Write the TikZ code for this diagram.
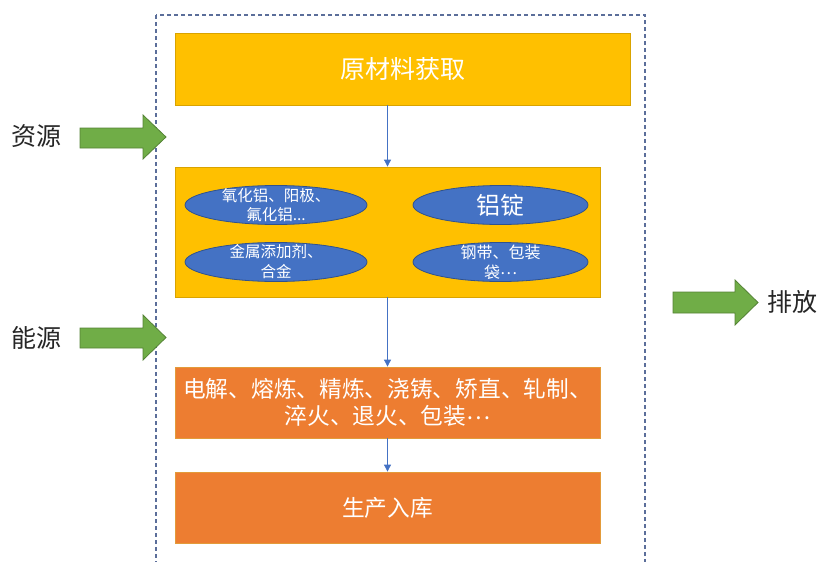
\documentclass[tikz,border=0pt]{standalone}
\usepackage{fontspec}
\setmainfont{Noto Sans CJK SC}
\usetikzlibrary{shapes.geometric,arrows.meta}
\definecolor{ygold}{HTML}{FFC000}
\definecolor{yedge}{HTML}{D9A300}
\definecolor{oran}{HTML}{ED7D31}
\definecolor{oedge}{HTML}{E39B3A}
\definecolor{eblue}{HTML}{4472C4}
\definecolor{eedge}{HTML}{2F528F}
\definecolor{gfill}{HTML}{70AD47}
\definecolor{gedge}{HTML}{548235}
\definecolor{frame}{HTML}{5B6E9A}
\definecolor{lbl}{HTML}{262626}
\newcommand{\midell}{\raisebox{0.25em}{…}}
\tikzset{
  ybox/.style={draw=yedge,fill=ygold,line width=0.8pt,inner sep=0pt},
  obox/.style={draw=oedge,fill=oran,line width=0.8pt,inner sep=0pt},
  blob/.style={ellipse,draw=eedge,fill=eblue,line width=0.8pt,inner sep=0pt},
  wtext/.style={text=white,align=center,inner sep=0pt},
  conn/.style={draw=eblue,line width=0.8pt,-{Triangle[length=7pt,width=7pt]}},
  garrow/.style={draw=gedge,fill=gfill,line width=0.8pt,line join=miter},
  side/.style={text=lbl,font=\fontsize{25}{28}\selectfont,inner sep=0pt}
}
\begin{document}
\begin{tikzpicture}[x=1pt,y=-1pt]
\useasboundingbox (0,0) rectangle (819,562);
\clip (0,0) rectangle (819,562);
% dashed frame
\draw[frame,line width=1.1pt,dash pattern=on 4pt off 3pt] (156,15) rectangle (645,580);
% boxes
\node[ybox,minimum width=455pt,minimum height=72pt] (raw) at (402.5,69) {};
\node[wtext,font=\fontsize{25}{28}\selectfont] (rawt) at (raw.center) {原材料获取};
\node[ybox,minimum width=425pt,minimum height=130pt] (mat) at (387.5,232) {};
\node[obox,minimum width=425pt,minimum height=71pt] (proc) at (387.5,402.5) {};
\node[wtext,font=\fontsize{22.7}{27.5}\selectfont] (proct) at (proc.center) {电解、熔炼、精炼、浇铸、矫直、轧制、\\淬火、退火、包装\midell};
\node[obox,minimum width=425pt,minimum height=71pt] (store) at (387.5,507.5) {};
\node[wtext,font=\fontsize{22.7}{28}\selectfont] (storet) at (store.center) {生产入库};
% ellipses
\node[blob,minimum width=182pt,minimum height=39pt] (e1) at (276,205) {};
\node[wtext,font=\fontsize{15.5}{18.5}\selectfont] (e1t) at (e1.center) {氧化铝、阳极、\\氟化铝...};
\node[blob,minimum width=175pt,minimum height=39pt] (e2) at (500.5,205) {};
\node[wtext,font=\fontsize{24}{28}\selectfont] (e2t) at (e2.center) {铝锭};
\node[blob,minimum width=182pt,minimum height=39pt] (e3) at (276,262) {};
\node[wtext,font=\fontsize{15.5}{20}\selectfont] (e3t) at (e3.center) {金属添加剂、\\合金};
\node[blob,minimum width=175pt,minimum height=39pt] (e4) at (500.5,262) {};
\node[wtext,font=\fontsize{16}{20}\selectfont] (e4t) at (e4.center) {钢带、包装\\袋\midell};
% connectors
\draw[conn] (raw.south -| mat.north) -- (mat.north);
\draw[conn] (mat.south) -- (proc.north);
\draw[conn] (proc.south) -- (store.north);
% green arrows
\draw[garrow] (80,128) -- (143,128) -- (143,115) -- (166,137) -- (143,159) -- (143,148) -- (80,148) -- cycle;
\draw[garrow] (80,328) -- (143,328) -- (143,315) -- (166,337.5) -- (143,360) -- (143,348) -- (80,348) -- cycle;
\draw[garrow] (673,292) -- (735,292) -- (735,280) -- (758,302.5) -- (735,325) -- (735,313) -- (673,313) -- cycle;
% side labels
\node[side] (res) at (37,136) {资源};
\node[side] (ene) at (37,338) {能源};
\node[side] (emi) at (792,302) {排放};
\end{tikzpicture}
\end{document}
